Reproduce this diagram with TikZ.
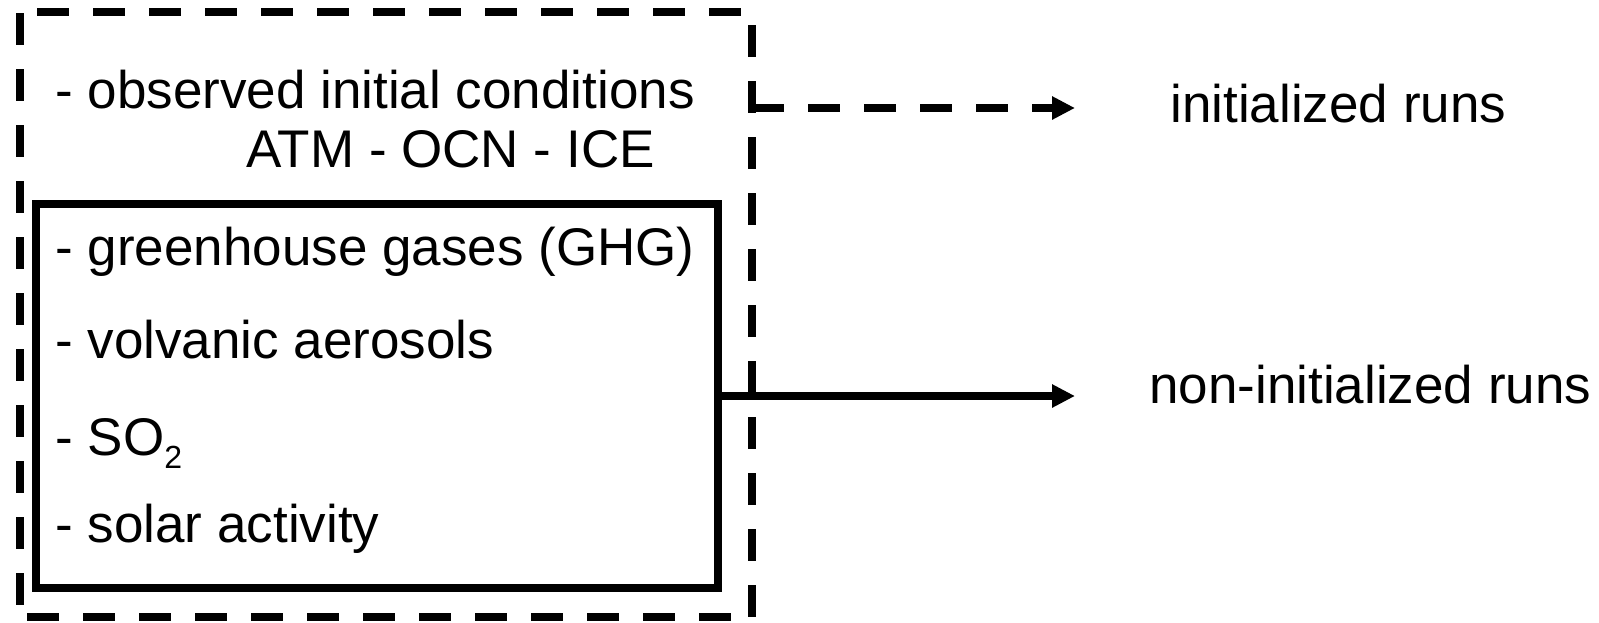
\documentclass[tikz,border=0pt]{standalone}
\usepackage{fontspec}
\setmainfont{Liberation Sans}
\usetikzlibrary{arrows.meta}

\tikzset{
  txt/.style={anchor=base west, inner sep=0pt, font=\fontsize{26.5}{30}\selectfont},
  dashline/.style={line width=4pt, dash pattern=on 16pt off 12pt},
  runarrow/.style={line width=3.75pt, -{Triangle[length=11.5pt,width=11pt]}}
}

\begin{document}
\begin{tikzpicture}[x=0.5pt,y=-0.5pt]
                    \useasboundingbox (0,0) rectangle (1599,622);

                    \draw[dashline] (19.5,13) -- (19.5,622);
                    \draw[dashline] (37,12) -- (745,12);
                    \draw[dashline] (752,25) -- (752,622);
                    \draw[dashline] (27,617) -- (735,617);

                    \node[draw, line width=4pt, inner sep=0pt, minimum width=341pt, minimum height=192pt] (forcing) at (377,396) {};

                    \node[txt] (obs) at (55,108) {- observed initial conditions};
                    \node[txt] (comp) at (246,167) {ATM - OCN - ICE};
                    \node[txt] (ghg) at (55,265) {- greenhouse gases (GHG)};
                    \node[txt] (volc) at (55,358) {- volvanic aerosols};
                    \node[txt] (so2) at (55,455) {- SO\raisebox{-6.5pt}{\fontsize{16}{16}\selectfont 2}};
                    \node[txt] (solar) at (55,542) {- solar activity};

                    \node[txt] (init) at (1170,122) {initialized runs};
                    \node[txt] (nonin) at (1149,403) {non-initialized runs};

                    \coordinate (initstart) at (752,108);
                    \coordinate (initend) at (1075,108);
                    \coordinate (noninend) at (1075,396);

                    \draw[runarrow, dash pattern=on 16pt off 12pt] (initstart) -- (initend);
                    \draw[runarrow] (forcing.east) -- (noninend);
                \end{tikzpicture}
\end{document}
